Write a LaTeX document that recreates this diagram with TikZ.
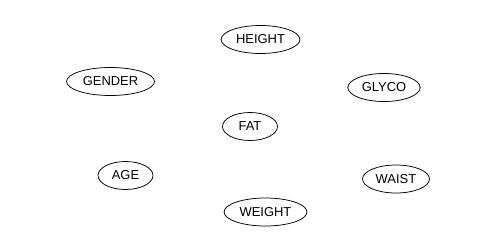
\documentclass[tikz,border=0pt]{standalone}
\usepackage{fontspec}
\setmainfont{Liberation Sans}
\usetikzlibrary{shapes.geometric}

\begin{document}
\begin{tikzpicture}[x=1bp, y=-1bp,
  var/.style={ellipse, draw, line width=0.75bp, inner xsep=3.4bp, inner ysep=0pt,
    minimum width=55bp, minimum height=28bp, font=\fontsize{13}{15}\selectfont}]
\useasboundingbox (0,0) rectangle (500,250);
\node[var] (height) at (260.5,39.5) {HEIGHT};
\node[var] (gender) at (110.5,81.5) {GENDER};
\node[var] (glyco) at (384,87.5) {GLYCO};
\node[var] (fat) at (250,126.5) {FAT};
\node[var] (age) at (125.5,175.5) {AGE};
\node[var] (waist) at (396,179) {WAIST};
\node[var] (weight) at (265.5,212) {WEIGHT};
\end{tikzpicture}
\end{document}
